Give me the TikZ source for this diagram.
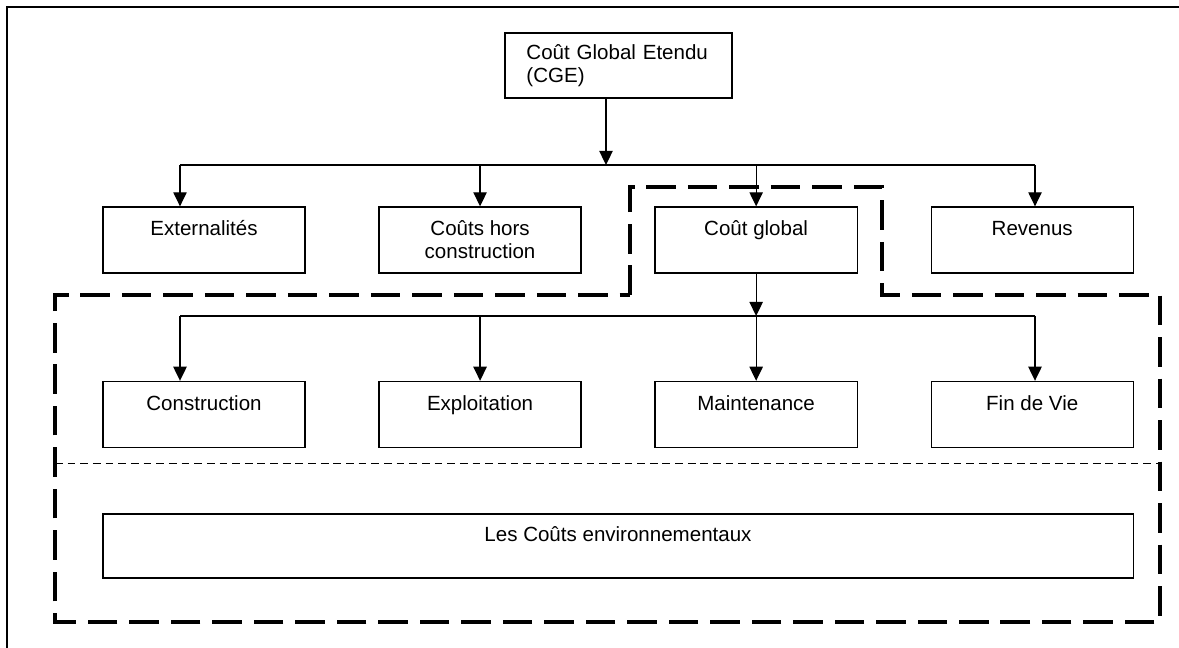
\documentclass[tikz,border=0pt]{standalone}
\usepackage{fontspec}
\setmainfont{Liberation Sans}
\usetikzlibrary{arrows.meta, positioning, calc}

\begin{document}
\begin{tikzpicture}[
    x=0.025cm, y=-0.025cm,
    node distance=6.9cm,
    box/.style={rectangle, draw, line width=0.9pt, minimum width=5.05cm, minimum height=1.65cm, align=center, font=\fontsize{14.6}{16.5}\selectfont},
    topbox/.style={box, minimum width=5.675cm, minimum height=1.625cm, text width=4.6cm, align=left},
    arrow/.style={line width=0.9pt, -{Triangle[length=10pt, width=9.5pt]}},
    grouping/.style={line width=2.6pt, dash pattern=on 21pt off 8.5pt},
    separator/.style={line width=0.7pt, dash pattern=on 5.5pt off 3.5pt}
]
\useasboundingbox (0,0) rectangle (1179,648);

% cadre
\draw[line width=1.4pt] (7,648) -- (7,7) -- (1179,7);

% niveau 0
\node[topbox] (cge) at (618.5,65.5) {Coût Global Etendu\\(CGE)};

% niveau 1
\node[box] (ext) at (204,240) {Externalités\\~};
\node[box, right of=ext] (hors) {Coûts hors\\construction};
\node[box, right of=hors] (cg) {Coût global\\~};
\node[box, right of=cg] (rev) {Revenus\\~};

% niveau 2
\node[box, below of=ext, node distance=4.36cm] (constr) {Construction\\~};
\node[box, right of=constr] (exploit) {Exploitation\\~};
\node[box, right of=exploit] (maint) {Maintenance\\~};
\node[box, right of=maint] (fin) {Fin de Vie\\~};

% couts environnementaux
\node[box, minimum width=25.75cm, minimum height=1.6cm] (env) at (618,546) {Les Coûts environnementaux\\~};

% connexions
\coordinate (bus1) at (606,165);
\coordinate (b1l) at (180,165);
\coordinate (b1r) at (1035,165);
\coordinate (b2l) at (180,316);
\coordinate (b2r) at (1035,316);

\draw[arrow] (cge.south -| bus1) -- (bus1);
\draw[line width=0.9pt] (b1l) -- (b1r);
\draw[arrow] (b1l) -- (b1l |- ext.north);
\draw[arrow] (hors.north |- b1l) -- (hors.north);
\draw[arrow] (cg.north |- b1l) -- (cg.north);
\draw[arrow] (b1r) -- (b1r |- rev.north);

\draw[arrow] (cg.south) -- (cg.south |- b2l);
\draw[line width=0.9pt] (b2l) -- (b2r);
\draw[arrow] (b2l) -- (b2l |- constr.north);
\draw[arrow] (exploit.north |- b2l) -- (exploit.north);
\draw[arrow] (maint.north |- b2l) -- (maint.north);
\draw[arrow] (b2r) -- (b2r |- fin.north);

% zones en pointilles
\draw[separator] (55,463) -- (1160,463);
\draw[grouping] (630,295) -- (630,187) -- (882,187) -- (882,295) -- (1160,295) -- (1160,622) -- (55,622) -- (55,295) -- cycle;
\end{tikzpicture}
\end{document}
